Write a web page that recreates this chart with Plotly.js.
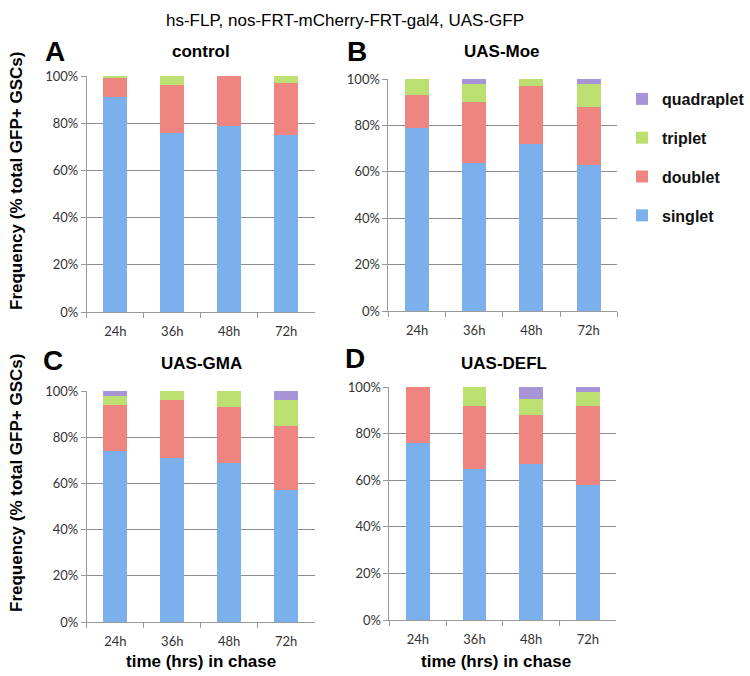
<!DOCTYPE html>
<html>
<head>
<meta charset="utf-8">
<script src="https://cdn.plot.ly/plotly-3.0.1.min.js"></script>
<style>html,body{margin:0;padding:0;background:#fff;}#chart{width:750px;height:676px;}</style>
</head>
<body>
<div id="chart"></div>
<script>
const categories = ['24h', '36h', '48h', '72h'];
const seriesNames = ['singlet', 'doublet', 'triplet', 'quadraplet'];
const panelTitles = ['control', 'UAS-Moe', 'UAS-GMA', 'UAS-DEFL'];
const panelLetters = ['A', 'B', 'C', 'D'];

// values in % of total GFP+ GSCs
const controlSinglet = [91, 76, 79, 75];
const controlDoublet = [8, 20, 21, 22];
const controlTriplet = [1, 4, 0, 3];
const controlQuad    = [0, 0, 0, 0];

const moeSinglet = [79, 64, 72, 63];
const moeDoublet = [14, 26, 25, 25];
const moeTriplet = [7, 8, 3, 10];
const moeQuad    = [0, 2, 0, 2];

const gmaSinglet = [74, 71, 69, 57];
const gmaDoublet = [20, 25, 24, 28];
const gmaTriplet = [4, 4, 7, 11];
const gmaQuad    = [2, 0, 0, 4];

const deflSinglet = [76, 65, 67, 58];
const deflDoublet = [24, 27, 21, 34];
const deflTriplet = [0, 8, 7, 6];
const deflQuad    = [0, 0, 5, 2];

const panels = [
  [controlSinglet, controlDoublet, controlTriplet, controlQuad],
  [moeSinglet, moeDoublet, moeTriplet, moeQuad],
  [gmaSinglet, gmaDoublet, gmaTriplet, gmaQuad],
  [deflSinglet, deflDoublet, deflTriplet, deflQuad]
];

const colors = ['#7cb0ec', '#ee8581', '#bcdf72', '#a895d8'];

const W = 750, H = 676;
const fx = p => p / W;
const fy = p => 1 - p / H;
// pixel boxes [x0, x1, yTop, yBottom]
const boxes = [
  [87, 315, 76, 312],
  [389, 618, 79, 311],
  [87, 315, 391, 622],
  [390, 617, 387, 620]
];

const traces = [];
panels.forEach((vals, pi) => {
  const sfx = pi === 0 ? '' : String(pi + 1);
  vals.forEach((v, si) => {
    traces.push({
      type: 'bar',
      x: categories,
      y: v,
      name: seriesNames[si],
      legendgroup: seriesNames[si],
      legendrank: 10 - si,
      showlegend: pi === 0,
      marker: {color: colors[si], line: {width: 0}},
      xaxis: 'x' + sfx,
      yaxis: 'y' + sfx,
      hoverinfo: 'x+y+name'
    });
  });
});

const tickFont = {family: 'Lato, Open Sans, sans-serif', size: 13, color: '#333'};
const layout = {
  width: W, height: H,
  margin: {l: 0, r: 0, t: 0, b: 0},
  paper_bgcolor: '#fff',
  plot_bgcolor: '#fff',
  barmode: 'stack',
  bargap: 0.58,
  showlegend: true,
  legend: {
    x: fx(623), y: fy(82), xanchor: 'left', yanchor: 'top',
    traceorder: 'grouped',
    tracegroupgap: 15,
    font: {family: 'Liberation Sans, Arial, sans-serif', size: 16, color: '#111', weight: 'bold'},
    bgcolor: 'rgba(0,0,0,0)', itemwidth: 30
  },
  annotations: [],
  font: {family: 'Liberation Sans, Arial, sans-serif'}
};

boxes.forEach((b, i) => {
  const sfx = i === 0 ? '' : String(i + 1);
  layout['xaxis' + sfx] = {
    domain: [fx(b[0]), fx(b[1])],
    anchor: 'y' + sfx,
    type: 'category',
    showline: true, linecolor: '#999', linewidth: 1,
    ticks: 'outside', ticklen: 5, tickcolor: '#999',
    tickson: 'boundaries',
    showgrid: false,
    tickfont: tickFont,
    ticklabelstandoff: 7,
    fixedrange: true
  };
  layout['yaxis' + sfx] = {
    domain: [fy(b[3]), fy(b[2])],
    anchor: 'x' + sfx,
    range: [0, 100],
    dtick: 20,
    ticksuffix: '%',
    showline: true, linecolor: '#999', linewidth: 1,
    ticks: 'outside', ticklen: 5, tickcolor: '#999',
    showgrid: true, gridcolor: '#8c8c8c', gridwidth: 1,
    zeroline: false,
    tickfont: tickFont,
    fixedrange: true
  };
});

const ann = (text, x, y, size, extra) => Object.assign({
  text: text, xref: 'paper', yref: 'paper', x: fx(x), y: fy(y),
  xanchor: 'center', yanchor: 'middle', showarrow: false,
  font: {family: 'Liberation Sans, Arial, sans-serif', size: size, color: '#000'}
}, extra || {});

layout.annotations.push(ann('hs-FLP, nos-FRT-mCherry-FRT-gal4, UAS-GFP', 345, 20, 17));
const letterPos = [[55, 52], [357, 52], [53, 360], [355, 358]];
const titlePos = [[201, 52], [503, 52], [202, 363], [505, 363]];
panelLetters.forEach((l, i) => {
  layout.annotations.push(ann('<b>' + l + '</b>', letterPos[i][0], letterPos[i][1], 28));
  layout.annotations.push(ann('<b>' + panelTitles[i] + '</b>', titlePos[i][0], titlePos[i][1], 17));
});
layout.annotations.push(ann('<b>Frequency (% total GFP+ GSCs)</b>', 16, 181, 17, {textangle: -90}));
layout.annotations.push(ann('<b>Frequency (% total GFP+ GSCs)</b>', 16, 483, 17, {textangle: -90}));
layout.annotations.push(ann('<b>time (hrs) in chase</b>', 201, 661, 17));
layout.annotations.push(ann('<b>time (hrs) in chase</b>', 497, 661, 17));

Plotly.newPlot('chart', traces, layout, {displayModeBar: false, staticPlot: true});
</script>
</body>
</html>
